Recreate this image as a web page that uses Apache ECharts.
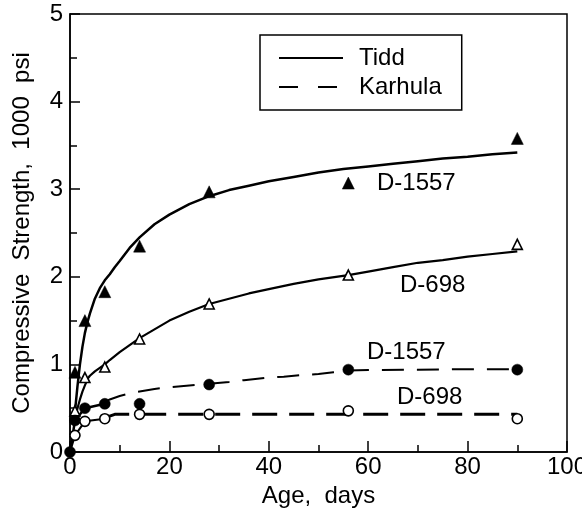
<!DOCTYPE html>
<html><head><meta charset="utf-8">
<script src="https://cdn.jsdelivr.net/npm/echarts@6/dist/echarts.min.js"></script>
<style>html,body{margin:0;padding:0;background:#fff}#c{width:582px;height:509px}</style>
</head><body><div id="c"></div>
<script>
// Measured points [age (days), strength (1000 psi)]
const tiddD1557Pts = [[1,0.91],[3,1.50],[7,1.83],[14,2.35],[28,2.97],[56,3.07],[90,3.58]];
const tiddD698Pts  = [[1,0.47],[3,0.85],[7,0.97],[14,1.29],[28,1.69],[56,2.02],[90,2.37]];
const karD1557Pts  = [[0,0],[1,0.36],[3,0.50],[7,0.55],[14,0.55],[28,0.77],[56,0.94],[90,0.94]];
const karD698Pts   = [[1,0.19],[3,0.35],[7,0.38],[14,0.43],[28,0.43],[56,0.47],[90,0.38]];
// Fitted curves
const tiddD1557Fit = [[1,0.46],[1.5,0.75],[2,1.0],[2.5,1.2],[3,1.36],[3.5,1.48],[4,1.58],[5,1.75],[6,1.87],[7,1.96],[8,2.03],[9,2.11],[10,2.18],[12,2.33],[14,2.45],[17,2.60],[20,2.71],[24,2.83],[28,2.92],[32,2.99],[36,3.04],[40,3.09],[45,3.14],[50,3.19],[55,3.23],[60,3.26],[65,3.29],[70,3.32],[75,3.35],[80,3.37],[85,3.40],[90,3.42]];
const tiddD698Fit  = [[1.3,0.45],[1.7,0.54],[2,0.60],[2.5,0.69],[3,0.76],[3.6,0.84],[4,0.87],[5,0.92],[6,0.96],[7,1.0],[8,1.05],[10,1.14],[12,1.22],[14,1.30],[17,1.40],[20,1.50],[24,1.60],[28,1.69],[32,1.75],[36,1.81],[40,1.86],[45,1.92],[50,1.97],[56,2.02],[60,2.06],[65,2.11],[70,2.16],[75,2.19],[80,2.23],[85,2.26],[90,2.29]];
const karD1557Early = [[0,0],[1,0.36],[3,0.50],[7,0.55]];
const karD1557Fit  = [[7,0.57],[8,0.60],[10,0.64],[12,0.67],[14,0.69],[17,0.72],[20,0.74],[24,0.76],[28,0.78],[32,0.80],[35,0.82],[40,0.85],[43,0.86],[47,0.88],[50,0.89],[53,0.91],[56,0.93],[60,0.935],[70,0.94],[80,0.945],[90,0.945]];
const karD698Early = [[0,0],[1,0.19],[3,0.35],[7,0.38]];
const karD698Fit   = [[7,0.39],[9,0.43],[90,0.43]];
const legendNames = ['Tidd','Karhula'];
const curveLabels = ['D-1557','D-698','D-1557','D-698'];
const xAxisTitle = 'Age,  days';
const yAxisTitle = 'Compressive  Strength,  1000  psi';

const FONT = '"Liberation Sans", Arial, Helvetica, sans-serif';
const FS = 24;
const chart = echarts.init(document.getElementById('c'), null, {renderer:'canvas'});
const lineS = (name, data, width, type) => ({
  type:'line', name, data, symbol:'none', showSymbol:false, smooth:false,
  itemStyle:{color:'#000'},
  lineStyle:{color:'#000', width, type}, z:2, silent:true, animation:false
});
const markS = (name, data, symbol, filled, size) => ({
  type:'scatter', name, data, symbol, symbolSize:size,
  itemStyle: filled ? {color:'#000', borderColor:'#000', borderWidth:0.5, opacity:1} : {color:'#fff', borderColor:'#000', borderWidth:1.6, opacity:1},
  z:5, silent:true, animation:false
});
const lbl = (text, left, top) => ({type:'text', left, top, style:{text, font:FS+'px '+FONT, fill:'#000'}, z:10});

chart.setOption({
  animation:false,
  backgroundColor:'#fff',
  grid:{left:70, right:15, top:14, bottom:57, containLabel:false, outerBoundsMode:'none',
    show:true, borderColor:'#000', borderWidth:1.5, backgroundColor:'transparent'},
  xAxis:{type:'value', min:0, max:100, interval:20,
    name:xAxisTitle, nameLocation:'middle', nameGap:24,
    nameTextStyle:{fontFamily:FONT, fontSize:FS, color:'#000'},
    axisLine:{show:true, lineStyle:{color:'#000', width:1.5}},
    axisTick:{show:true, inside:true, length:11, lineStyle:{color:'#000', width:1.5}},
    minorTick:{show:true, splitNumber:2, length:7, lineStyle:{color:'#000', width:1.5}},
    splitLine:{show:false},
    axisLabel:{fontFamily:FONT, fontSize:FS, color:'#000', margin:3}},
  yAxis:{type:'value', min:0, max:5, interval:1,
    name:yAxisTitle, nameLocation:'middle', nameGap:36, nameRotate:90,
    nameTextStyle:{fontFamily:FONT, fontSize:FS, color:'#000'},
    axisLine:{show:true, lineStyle:{color:'#000', width:1.5}},
    axisTick:{show:true, inside:true, length:10, lineStyle:{color:'#000', width:1.5}},
    minorTick:{show:true, splitNumber:2, length:7, lineStyle:{color:'#000', width:1.5}},
    splitLine:{show:false},
    axisLabel:{fontFamily:FONT, fontSize:FS, color:'#000', margin:7}},
  legend:{data:legendNames, orient:'vertical', left:260, top:35,
    padding:[11,20,11,18], itemWidth:64, itemHeight:14, itemGap:5,
    borderColor:'#000', borderWidth:1.5, borderRadius:0, backgroundColor:'#fff',
    itemStyle:{opacity:0},
    textStyle:{fontFamily:FONT, fontSize:FS, color:'#000', lineHeight:24, padding:[0,0,0,11]},
    selectedMode:false},
  graphic:[
    lbl(curveLabels[0], 377, 171),
    lbl(curveLabels[1], 400, 273),
    lbl(curveLabels[2], 367, 340),
    lbl(curveLabels[3], 397, 385)
  ],
  series:[
    lineS(legendNames[0], [], 2.5, 'solid'),
    lineS(legendNames[1], [], 3, [19,20]),
    lineS('tidd1557fit', tiddD1557Fit, 2.5, 'solid'),
    lineS('tidd698fit', tiddD698Fit, 2.2, 'solid'),
    lineS('kar1557early', karD1557Early, 2.5, 'solid'),
    lineS('kar1557fit', karD1557Fit, 2, [22,13]),
    lineS('kar698early', karD698Early, 2, 'solid'),
    lineS('kar698fit', karD698Fit, 3, [25,12]),
    markS('t1557', tiddD1557Pts, 'triangle', true, 12),
    markS('t698', tiddD698Pts, 'triangle', false, 10),
    markS('k1557', karD1557Pts, 'circle', true, 11),
    markS('k698', karD698Pts, 'circle', false, 10)
  ]
});
</script></body></html>
